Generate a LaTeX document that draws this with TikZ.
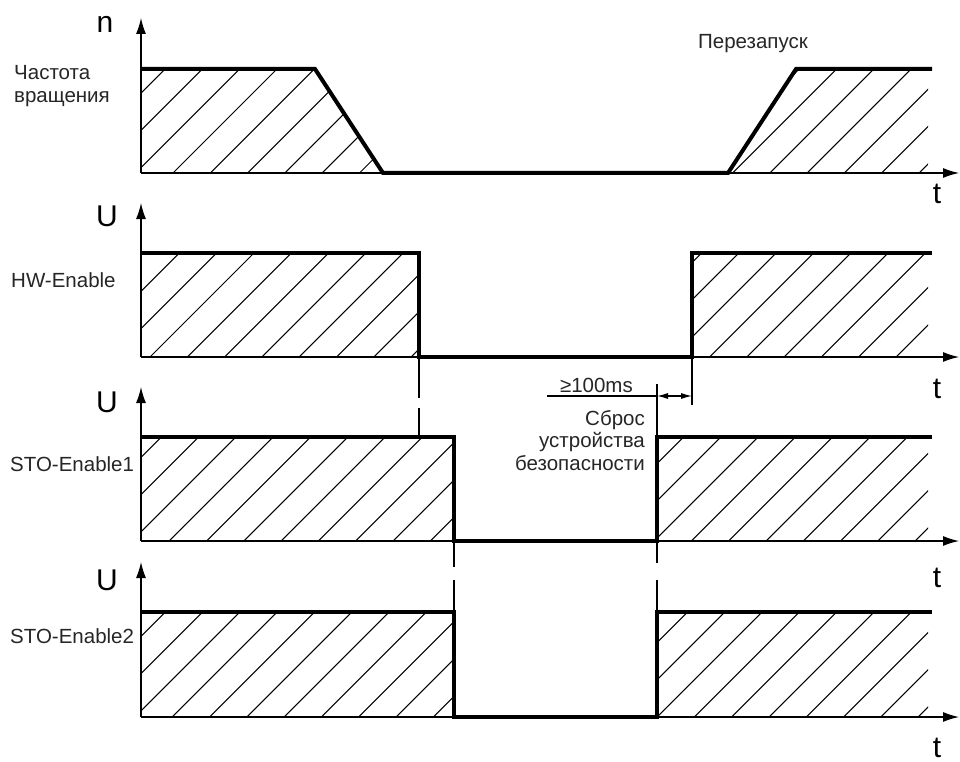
\documentclass[tikz,border=0pt]{standalone}
\usepackage{fontspec}
\setmainfont{Liberation Sans}
\usetikzlibrary{arrows.meta}
\tikzset{
  axisline/.style={line width=1.3pt, -{Latex[length=16pt,width=10pt]}},
  sig/.style={line width=4pt, line join=miter, line cap=butt},
  hatchline/.style={line width=1.05pt},
  ext/.style={line width=1.2pt},
  lbl/.style={font=\fontsize{20.5}{23}\selectfont, text=black!85, inner sep=0pt},
  big/.style={font=\fontsize{30}{32}\selectfont, inner sep=0pt},
}
% hatch: #1 clip path, #2 offset, #3 base y, #4 height
\newcommand\hatchfill[4]{%
  \begin{scope}
    \clip #1;
    \foreach \i in {0,...,26}{
      \draw[hatchline] ({#2+37.3*\i},#3) -- ({#2+37.3*\i+#4},{#3-#4});
    }
  \end{scope}}
\begin{document}
\begin{tikzpicture}[x=1pt,y=-1pt]
\useasboundingbox[fill=white] (0,0) rectangle (960,762);

% ---------- Panel 1 : speed ----------
\hatchfill{(141,69) -- (315,69) -- (383,173) -- (141,173) -- cycle}{23.8}{173}{104}
\hatchfill{(728,173) -- (796,69) -- (928,69) -- (928,173) -- cycle}{23.8}{173}{104}
\draw[axisline] (141,173) -- (141,18);
\draw[axisline] (141,173) -- (959,173);
\draw[sig] (141,69) -- (315,69) -- (383,173) -- (728,173) -- (796,69) -- (932,69);
\node[big] (n1) at (105,24) {n};
\node[big] (t1) at (937,194) {t};
\node[lbl, anchor=base west] (freqa) at (14,80) {Частота};
\node[lbl, anchor=base west] (freqb) at (14,103) {вращения};
\node[lbl, anchor=base] (restart) at (753,49) {Перезапуск};

% ---------- Panel 2 : HW-Enable ----------
\hatchfill{(141,253) rectangle (419,357)}{0.8}{357}{104}
\hatchfill{(692,253) rectangle (928,357)}{0.8}{357}{104}
\draw[axisline] (141,357) -- (141,203);
\draw[axisline] (141,357) -- (959,357);
\draw[sig] (141,253) -- (419,253) -- (419,357) -- (692,357) -- (692,253) -- (932,253);
\node[big] (u2) at (107,216) {U};
\node[big] (t2) at (937,389) {t};
\node[lbl, anchor=base west] (hw) at (11,287) {HW-Enable};

% ---------- Panel 3 : STO-Enable1 ----------
\hatchfill{(141,437) rectangle (454,541)}{20}{541}{104}
\hatchfill{(657,437) rectangle (928,541)}{20}{541}{104}
\draw[axisline] (141,541) -- (141,387);
\draw[axisline] (141,541) -- (959,541);
\draw[sig] (141,437) -- (454,437) -- (454,541) -- (657,541) -- (657,437) -- (932,437);
\node[big] (u3) at (107,402) {U};
\node[big] (t3) at (937,578) {t};
\node[lbl, anchor=base west] (sto1) at (10,471) {STO-Enable1};

% ---------- Panel 4 : STO-Enable2 ----------
\hatchfill{(141,612) rectangle (454,717)}{23}{717}{105}
\hatchfill{(657,612) rectangle (928,717)}{23}{717}{105}
\draw[axisline] (141,717) -- (141,562);
\draw[axisline] (141,717) -- (959,717);
\draw[sig] (141,612) -- (454,612) -- (454,717) -- (657,717) -- (657,612) -- (932,612);
\node[big] (u4) at (107,580) {U};
\node[big] (t4) at (937,748) {t};
\node[lbl, anchor=base west] (sto2) at (10,643) {STO-Enable2};

% ---------- extension lines ----------
\coordinate (hwfall) at (419,357);
\coordinate (sto1top) at (419,437);
\draw[ext, dash pattern=on 41pt off 10pt] (hwfall) -- (sto1top);
\coordinate (s1fall) at (454,541);
\coordinate (s2fall) at (454,612);
\draw[ext, dash pattern=on 26pt off 13pt on 40pt off 13pt] (s1fall) -- (s2fall);
\coordinate (s1rise) at (657,541);
\coordinate (s2rise) at (657,612);
\draw[ext, dash pattern=on 22pt off 17pt on 40pt off 13pt] (s1rise) -- (s2rise);
\coordinate (hwrise) at (692,357);
\coordinate (hwext) at (692,405);
\draw[ext] (hwrise) -- (hwext);
\coordinate (s1ext) at (657,384);
\coordinate (s1riseTop) at (657,437);
\draw[ext] (s1ext) -- (s1riseTop);

% ---------- dimension ----------
\coordinate (dimL) at (547,396);
\coordinate (dimA) at (657,396);
\coordinate (dimB) at (692,396);
\draw[ext] (dimL) -- (dimA);
\draw[ext, {Latex[length=11pt,width=6pt]}-{Latex[length=11pt,width=6pt]}] (dimA) -- (dimB);
\node[lbl, anchor=base east] (ms) at (633,392) {≥100ms};
\node[lbl, anchor=base east] (resa) at (645,425) {Сброс};
\node[lbl, anchor=base east] (resb) at (645,447) {устройства};
\node[lbl, anchor=base east] (resc) at (645,470) {безопасности};
\end{tikzpicture}
\end{document}
